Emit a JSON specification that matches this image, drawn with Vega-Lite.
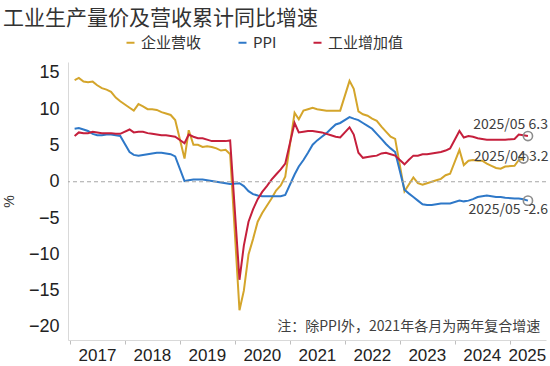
{
  "$schema": "https://vega.github.io/schema/vega-lite/v6.json",
  "autosize": {"type": "none"},
  "padding": {"left": 68, "top": 62, "right": 4, "bottom": 26},
  "width": 478,
  "height": 278,
  "background": "white",
  "title": {
    "text": "工业生产量价及营收累计同比增速",
    "anchor": "start",
    "frame": "group",
    "dx": -65,
    "offset": 6,
    "font": "Noto Sans CJK SC",
    "fontSize": 21,
    "fontWeight": "normal",
    "color": "#333333"
  },
  "config": {
    "view": {"stroke": null},
    "axis": {"grid": false}
  },
  "datasets": {
    "main": [
      {"d": "2017/02/01", "企业营收": 14.0, "PPI": 7.3, "工业增加值": 6.3},
      {"d": "2017/03/01", "企业营收": 14.3, "PPI": 7.4, "工业增加值": 6.8},
      {"d": "2017/04/01", "企业营收": 13.8, "PPI": 7.2, "工业增加值": 6.7},
      {"d": "2017/05/01", "企业营收": 13.7, "PPI": 7.0, "工业增加值": 6.7},
      {"d": "2017/06/01", "企业营收": 13.8, "PPI": 6.6, "工业增加值": 6.9},
      {"d": "2017/07/01", "企业营收": 13.3, "PPI": 6.4, "工业增加值": 6.8},
      {"d": "2017/08/01", "企业营收": 12.9, "PPI": 6.4, "工业增加值": 6.7},
      {"d": "2017/09/01", "企业营收": 12.7, "PPI": 6.5, "工业增加值": 6.7},
      {"d": "2017/10/01", "企业营收": 12.4, "PPI": 6.5, "工业增加值": 6.7},
      {"d": "2017/11/01", "企业营收": 11.6, "PPI": 6.4, "工业增加值": 6.6},
      {"d": "2017/12/01", "企业营收": 11.1, "PPI": 6.3, "工业增加值": 6.6},
      {"d": "2018/02/01", "企业营收": 10.2, "PPI": 4.1, "工业增加值": 7.2},
      {"d": "2018/03/01", "企业营收": 9.8, "PPI": 3.7, "工业增加值": 6.8},
      {"d": "2018/04/01", "企业营收": 10.7, "PPI": 3.6, "工业增加值": 6.9},
      {"d": "2018/05/01", "企业营收": 10.4, "PPI": 3.7, "工业增加值": 6.9},
      {"d": "2018/06/01", "企业营收": 10.0, "PPI": 3.8, "工业增加值": 6.7},
      {"d": "2018/07/01", "企业营收": 10.0, "PPI": 3.9, "工业增加值": 6.6},
      {"d": "2018/08/01", "企业营收": 9.9, "PPI": 4.0, "工业增加值": 6.5},
      {"d": "2018/09/01", "企业营收": 9.6, "PPI": 4.0, "工业增加值": 6.4},
      {"d": "2018/10/01", "企业营收": 9.4, "PPI": 3.9, "工业增加值": 6.4},
      {"d": "2018/11/01", "企业营收": 9.2, "PPI": 3.8, "工业增加值": 6.3},
      {"d": "2018/12/01", "企业营收": 8.5, "PPI": 3.5, "工业增加值": 6.2},
      {"d": "2019/02/01", "企业营收": 3.2, "PPI": 0.1, "工业增加值": 5.3},
      {"d": "2019/03/01", "企业营收": 7.1, "PPI": 0.2, "工业增加值": 6.5},
      {"d": "2019/04/01", "企业营收": 5.1, "PPI": 0.3, "工业增加值": 6.2},
      {"d": "2019/05/01", "企业营收": 5.1, "PPI": 0.3, "工业增加值": 6.0},
      {"d": "2019/06/01", "企业营收": 4.8, "PPI": 0.3, "工业增加值": 6.0},
      {"d": "2019/07/01", "企业营收": 4.9, "PPI": 0.2, "工业增加值": 5.8},
      {"d": "2019/08/01", "企业营收": 4.8, "PPI": 0.1, "工业增加值": 5.6},
      {"d": "2019/09/01", "企业营收": 4.6, "PPI": 0.0, "工业增加值": 5.6},
      {"d": "2019/10/01", "企业营收": 4.3, "PPI": -0.1, "工业增加值": 5.6},
      {"d": "2019/11/01", "企业营收": 4.4, "PPI": -0.2, "工业增加值": 5.6},
      {"d": "2019/12/01", "企业营收": 3.8, "PPI": -0.3, "工业增加值": 5.7},
      {"d": "2020/02/01", "企业营收": -17.7, "PPI": -0.2, "工业增加值": -13.5},
      {"d": "2020/03/01", "企业营收": -15.0, "PPI": -0.6, "工业增加值": -8.8},
      {"d": "2020/04/01", "企业营收": -10.0, "PPI": -1.3, "工业增加值": -5.5},
      {"d": "2020/05/01", "企业营收": -7.9, "PPI": -1.7, "工业增加值": -3.8},
      {"d": "2020/06/01", "企业营收": -5.5, "PPI": -1.9, "工业增加值": -2.4},
      {"d": "2020/07/01", "企业营收": -4.3, "PPI": -2.0, "工业增加值": -1.4},
      {"d": "2020/08/01", "企业营收": -3.3, "PPI": -2.0, "工业增加值": -0.6},
      {"d": "2020/09/01", "企业营收": -2.3, "PPI": -2.0, "工业增加值": 0.3},
      {"d": "2020/10/01", "企业营收": -1.2, "PPI": -2.0, "工业增加值": 1.0},
      {"d": "2020/11/01", "企业营收": -0.5, "PPI": -2.0, "工业增加值": 1.7},
      {"d": "2020/12/01", "企业营收": 0.7, "PPI": -1.8, "工业增加值": 2.5},
      {"d": "2021/02/01", "企业营收": 9.5, "PPI": 1.0, "工业增加值": 8.1},
      {"d": "2021/03/01", "企业营收": 8.6, "PPI": 2.1, "工业增加值": 6.8},
      {"d": "2021/04/01", "企业营收": 9.8, "PPI": 3.0, "工业增加值": 6.9},
      {"d": "2021/05/01", "企业营收": 10.0, "PPI": 4.0, "工业增加值": 7.0},
      {"d": "2021/06/01", "企业营收": 10.2, "PPI": 5.1, "工业增加值": 7.0},
      {"d": "2021/07/01", "企业营收": 10.0, "PPI": 5.7, "工业增加值": 6.9},
      {"d": "2021/08/01", "企业营收": 9.9, "PPI": 6.2, "工业增加值": 6.8},
      {"d": "2021/09/01", "企业营收": 9.8, "PPI": 6.7, "工业增加值": 6.6},
      {"d": "2021/10/01", "企业营收": 9.8, "PPI": 7.3, "工业增加值": 6.4},
      {"d": "2021/11/01", "企业营收": 9.8, "PPI": 7.9, "工业增加值": 6.2},
      {"d": "2021/12/01", "企业营收": 9.8, "PPI": 8.1, "工业增加值": 6.1},
      {"d": "2022/02/01", "企业营收": 13.9, "PPI": 8.9, "工业增加值": 7.5},
      {"d": "2022/03/01", "企业营收": 12.8, "PPI": 8.7, "工业增加值": 6.5},
      {"d": "2022/04/01", "企业营收": 9.7, "PPI": 8.5, "工业增加值": 4.0},
      {"d": "2022/05/01", "企业营收": 9.3, "PPI": 8.1, "工业增加值": 3.3},
      {"d": "2022/06/01", "企业营收": 9.1, "PPI": 7.7, "工业增加值": 3.4},
      {"d": "2022/07/01", "企业营收": 8.7, "PPI": 7.3, "工业增加值": 3.5},
      {"d": "2022/08/01", "企业营收": 8.4, "PPI": 6.6, "工业增加值": 3.6},
      {"d": "2022/09/01", "企业营收": 7.6, "PPI": 5.9, "工业增加值": 3.9},
      {"d": "2022/10/01", "企业营收": 6.9, "PPI": 5.2, "工业增加值": 4.0},
      {"d": "2022/11/01", "企业营收": 6.2, "PPI": 4.6, "工业增加值": 3.8},
      {"d": "2022/12/01", "企业营收": 5.9, "PPI": 4.1, "工业增加值": 3.6},
      {"d": "2023/02/01", "企业营收": -1.3, "PPI": -1.1, "工业增加值": 2.4},
      {"d": "2023/03/01", "企业营收": -0.4, "PPI": -1.6, "工业增加值": 3.0},
      {"d": "2023/04/01", "企业营收": 0.6, "PPI": -2.1, "工业增加值": 3.6},
      {"d": "2023/05/01", "企业营收": -0.2, "PPI": -2.6, "工业增加值": 3.6},
      {"d": "2023/06/01", "企业营收": -0.4, "PPI": -3.1, "工业增加值": 3.8},
      {"d": "2023/07/01", "企业营收": -0.2, "PPI": -3.2, "工业增加值": 3.8},
      {"d": "2023/08/01", "企业营收": 0.0, "PPI": -3.2, "工业增加值": 3.9},
      {"d": "2023/09/01", "企业营收": 0.2, "PPI": -3.1, "工业增加值": 4.0},
      {"d": "2023/10/01", "企业营收": 0.4, "PPI": -3.0, "工业增加值": 4.1},
      {"d": "2023/11/01", "企业营收": 0.9, "PPI": -3.0, "工业增加值": 4.3},
      {"d": "2023/12/01", "企业营收": 1.1, "PPI": -3.0, "工业增加值": 4.6},
      {"d": "2024/02/01", "企业营收": 4.4, "PPI": -2.6, "工业增加值": 7.0},
      {"d": "2024/03/01", "企业营收": 2.3, "PPI": -2.7, "工业增加值": 6.1},
      {"d": "2024/04/01", "企业营收": 2.9, "PPI": -2.6, "工业增加值": 6.3},
      {"d": "2024/05/01", "企业营收": 3.0, "PPI": -2.4, "工业增加值": 6.2},
      {"d": "2024/06/01", "企业营收": 2.9, "PPI": -2.1, "工业增加值": 6.0},
      {"d": "2024/07/01", "企业营收": 2.9, "PPI": -2.0, "工业增加值": 5.9},
      {"d": "2024/08/01", "企业营收": 2.5, "PPI": -1.9, "工业增加值": 5.8},
      {"d": "2024/09/01", "企业营收": 2.2, "PPI": -2.0, "工业增加值": 5.8},
      {"d": "2024/10/01", "企业营收": 1.9, "PPI": -2.1, "工业增加值": 5.8},
      {"d": "2024/11/01", "企业营收": 1.8, "PPI": -2.1, "工业增加值": 5.8},
      {"d": "2024/12/01", "企业营收": 2.1, "PPI": -2.2, "工业增加值": 5.8},
      {"d": "2025/02/01", "企业营收": 2.2, "PPI": -2.3, "工业增加值": 5.9},
      {"d": "2025/03/01", "企业营收": 3.0, "PPI": -2.3, "工业增加值": 6.5},
      {"d": "2025/04/01", "企业营收": 3.2, "PPI": -2.4, "工业增加值": 6.4},
      {"d": "2025/05/01", "PPI": -2.6, "工业增加值": 6.3}
    ],
    "ends": [
      {"d": "2025/05/01", "series": "工业增加值", "value": 6.3, "label": "2025/05  6.3"},
      {"d": "2025/04/01", "series": "企业营收", "value": 3.2, "label": "2025/04  3.2"},
      {"d": "2025/05/01", "series": "PPI", "value": -2.6, "label": "2025/05  -2.6"}
    ],
    "note": [
      {"d": "2025/07/21", "value": -20, "label": "注：除PPI外，2021年各月为两年复合增速"}
    ]
  },
  "layer": [
    {
      "data": {"name": "main"},
      "transform": [{"fold": ["企业营收", "PPI", "工业增加值"], "as": ["series", "value"]}],
      "mark": {"type": "line", "strokeWidth": 2},
      "encoding": {
        "x": {
          "field": "d",
          "type": "temporal",
          "scale": {
            "domain": [{"year": 2016, "month": 12, "date": 19}, {"year": 2025, "month": 8, "date": 29}]
          },
          "axis": {
            "title": null,
            "values": [
              {"year": 2017, "month": 1, "date": 1}, {"year": 2018, "month": 1, "date": 1},
              {"year": 2019, "month": 1, "date": 1}, {"year": 2020, "month": 1, "date": 1},
              {"year": 2021, "month": 1, "date": 1}, {"year": 2022, "month": 1, "date": 1},
              {"year": 2023, "month": 1, "date": 1}, {"year": 2024, "month": 1, "date": 1},
              {"year": 2025, "month": 1, "date": 1}
            ],
            "format": "%Y",
            "labelFont": "Liberation Sans",
            "labelFontSize": 17,
            "labelColor": "#222222",
            "labelOffset": {"condition": {"test": "year(datum.value) == 2025", "value": 17}, "value": 27},
            "labelPadding": 3,
            "labelFlush": false,
            "labelOverlap": false,
            "domainColor": "#d9d9d9",
            "tickColor": "#bfbfbf",
            "tickSize": 4
          }
        },
        "y": {
          "field": "value",
          "type": "quantitative",
          "scale": {"domain": [-21.8, 16.5], "nice": false, "zero": false},
          "axis": {
            "title": "%",
            "tickCount": 8,
            "values": [-20, -15, -10, -5, 0, 5, 10, 15],
            "labelOverlap": false,
            "labelSeparation": 0,
            "labelFont": "Liberation Sans",
            "labelFontSize": 18,
            "labelColor": "#222222",
            "labelPadding": 9,
            "ticks": false,
            "domainColor": "#d9d9d9",
            "titleFont": "Liberation Sans",
            "titleFontSize": 14,
            "titleFontWeight": "normal",
            "titleColor": "#333333",
            "titlePadding": 12
          }
        },
        "color": {
          "field": "series",
          "type": "nominal",
          "scale": {"domain": ["企业营收", "PPI", "工业增加值"], "range": ["#D4A52B", "#2E78C8", "#C51F3C"]},
          "legend": {
            "title": null,
            "orient": "none",
            "legendX": 55,
            "legendY": -27,
            "direction": "horizontal",
            "symbolType": "stroke",
            "symbolSize": 64,
            "symbolStrokeWidth": 2,
            "labelFont": "Noto Sans CJK SC",
            "labelFontSize": 15,
            "labelColor": "#333333",
            "labelOffset": 3,
            "columnPadding": 32
          }
        }
      }
    },
    {
      "data": {"name": "note"},
      "mark": {"type": "rule", "strokeDash": [4, 3], "color": "#a6a6a6", "strokeWidth": 1.2},
      "encoding": {"y": {"datum": 0, "type": "quantitative"}}
    },
    {
      "data": {"name": "ends"},
      "mark": {"type": "point", "shape": "circle", "filled": false, "stroke": "#8c8c8c", "strokeWidth": 1.6, "size": 85, "opacity": 1},
      "encoding": {
        "x": {"field": "d", "type": "temporal"},
        "y": {"field": "value", "type": "quantitative"}
      }
    },
    {
      "data": {"name": "ends"},
      "transform": [{"filter": "datum.series == '工业增加值'"}],
      "mark": {"type": "text", "align": "right", "baseline": "middle", "dx": 20, "dy": -11, "font": "Noto Sans CJK SC", "fontSize": 14, "color": "#404040"},
      "encoding": {
        "x": {"field": "d", "type": "temporal"},
        "y": {"field": "value", "type": "quantitative"},
        "text": {"field": "label"}
      }
    },
    {
      "data": {"name": "ends"},
      "transform": [{"filter": "datum.series == '企业营收'"}],
      "mark": {"type": "text", "align": "right", "baseline": "middle", "dx": 25, "dy": -2, "font": "Noto Sans CJK SC", "fontSize": 14, "color": "#404040"},
      "encoding": {
        "x": {"field": "d", "type": "temporal"},
        "y": {"field": "value", "type": "quantitative"},
        "text": {"field": "label"}
      }
    },
    {
      "data": {"name": "ends"},
      "transform": [{"filter": "datum.series == 'PPI'"}],
      "mark": {"type": "text", "align": "right", "baseline": "middle", "dx": 20, "dy": 9, "font": "Noto Sans CJK SC", "fontSize": 14, "color": "#404040"},
      "encoding": {
        "x": {"field": "d", "type": "temporal"},
        "y": {"field": "value", "type": "quantitative"},
        "text": {"field": "label"}
      }
    },
    {
      "data": {"name": "note"},
      "mark": {"type": "text", "align": "right", "baseline": "middle", "font": "Noto Sans CJK SC", "fontSize": 14, "color": "#404040"},
      "encoding": {
        "x": {"field": "d", "type": "temporal"},
        "y": {"field": "value", "type": "quantitative"},
        "text": {"field": "label"}
      }
    }
  ]
}
